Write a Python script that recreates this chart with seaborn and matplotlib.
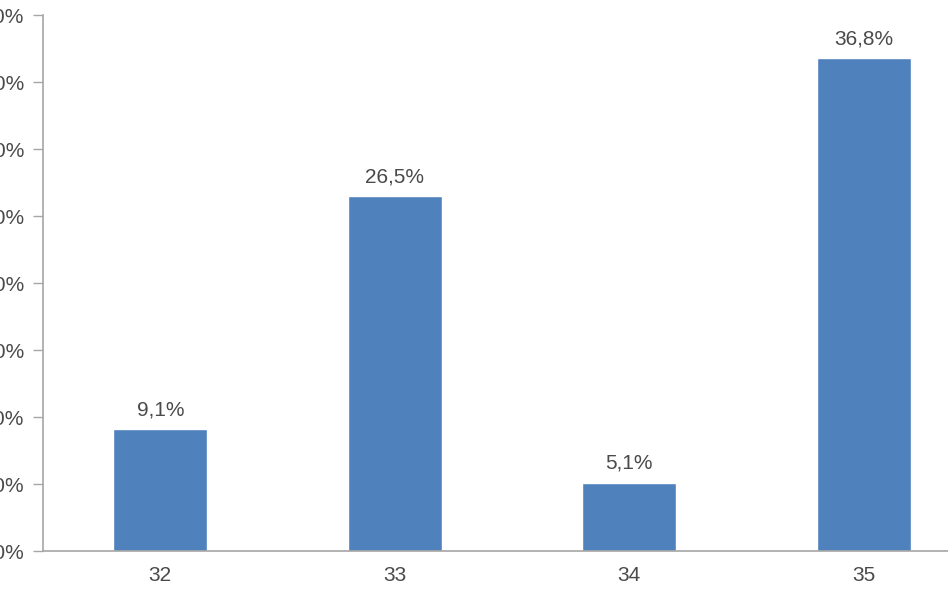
import pandas as pd
import matplotlib
matplotlib.use('Agg')
import matplotlib.pyplot as plt
import seaborn as sns
from matplotlib.ticker import FuncFormatter, FixedLocator

categories = ['32', '33', '34', '35']
shares = [9.1, 26.5, 5.1, 36.8]
y_ticks = [0, 5, 10, 15, 20, 25, 30, 35, 40]

sns.set_style('white')
plt.rcParams['font.family'] = ['Liberation Sans', 'DejaVu Sans']

df = pd.DataFrame({'cat': categories, 'share': shares})

text_col = '#4a4a4a'
axis_col = '#A6A6A6'

fig = plt.figure(figsize=(9.48, 5.93), dpi=100)
# plot area is cropped on the left/right like the source image
ax = fig.add_axes([43 / 948, 1 - 551 / 593, 938 / 948, 536 / 593])

sns.barplot(data=df, x='cat', y='share', color='#4F81BD', width=0.4,
            saturation=1, ax=ax)

ax.set_xlim(-0.5, 3.5)
ax.set_ylim(0, 40)
ax.set_yticks(y_ticks)
ax.yaxis.set_major_formatter(FuncFormatter(lambda v, p: f'{v:.1f}%'.replace('.', ',')))

# category boundary ticks on x axis
ax.xaxis.set_minor_locator(FixedLocator([0.5, 1.5, 2.5, 3.5]))
ax.tick_params(axis='x', which='major', length=0, pad=11, labelsize=15, labelcolor=text_col)
ax.tick_params(axis='x', which='minor', length=6, width=1, color=axis_col, direction='out')
ax.tick_params(axis='y', which='major', length=7, width=1, color=axis_col, direction='out',
               pad=6.5, labelsize=15, labelcolor=text_col, left=True)

for side in ['top', 'right']:
    ax.spines[side].set_visible(False)
for side in ['left', 'bottom']:
    ax.spines[side].set_color(axis_col)
    ax.spines[side].set_linewidth(1.2)

for c in ax.containers:
    ax.bar_label(c, labels=[f'{v:.1f}%'.replace('.', ',') for v in shares],
                 padding=7, fontsize=15, color=text_col)

ax.set_xlabel('')
ax.set_ylabel('')

fig.savefig('out.png', dpi=100)
